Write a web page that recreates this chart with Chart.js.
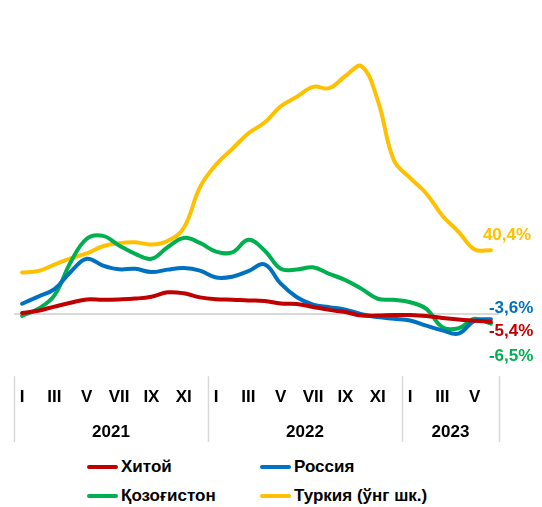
<!DOCTYPE html>
<html lang="uz">
<head>
    <meta charset="UTF-8">
    <meta name="viewport" content="width=device-width, initial-scale=1.0">
    <title>Ишлаб чиқарувчилар нархлари</title>
    <script src="https://cdn.jsdelivr.net/npm/chart.js"></script>
    <style>
        body {
            margin: 0;
            background: #fff;
            font-family: Arial, "Liberation Sans", sans-serif;
        }
        .chart-container {
            position: relative;
            width: 542px;
            height: 450px;
        }
        .legend {
            position: relative;
            width: 542px;
            height: 57px;
        }
        .legend-item {
            position: absolute;
            display: flex;
            align-items: center;
            height: 20px;
            font-size: 17px;
            font-weight: bold;
            color: #000;
            white-space: nowrap;
        }
        .legend-item .swatch {
            display: inline-block;
            width: 31px;
            height: 4px;
            border-radius: 2px;
            margin-right: 3px;
        }
    </style>
</head>
<body>
    <div class="chart-container">
        <canvas id="ppiChart"></canvas>
    </div>
    <div class="legend" id="legend"></div>
    <script>
        // month ticks: only odd months are labelled
        const monthTicks = ['I', '', 'III', '', 'V', '', 'VII', '', 'IX', '', 'XI', '',
                            'I', '', 'III', '', 'V', '', 'VII', '', 'IX', '', 'XI', '',
                            'I', '', 'III', '', 'V', ''];
        const years = ['2021', '2022', '2023'];
        const monthsPerYear = [12, 12, 6];

        // yoy, %
        const china = [0.3, 1.8, 4.4, 6.9, 9.0, 8.8, 9.0, 9.5, 10.7, 13.5, 12.9, 10.3,
                       9.1, 8.8, 8.3, 8.0, 6.4, 6.1, 4.2, 2.3, 0.9, -1.3, -1.3, -0.9,
                       -1.0, -1.6, -2.8, -3.8, -4.6, -5.4];
        const russia = [6.2, 10.8, 15.5, 26.5, 34.9, 30.6, 28.2, 28.5, 26.4, 28.0, 29.0, 27.4,
                        23.0, 23.5, 27.0, 31.3, 19.0, 10.4, 5.7, 4.0, 2.5, -0.5, -2.3, -3.4,
                        -4.5, -7.7, -10.8, -12.8, -4.5, -3.6];
        const kazakhstan = [-1.5, 3.0, 11.5, 32.7, 47.7, 49.5, 43.4, 38.1, 34.9, 42.3, 48.2, 45.0,
                            39.5, 39.0, 47.0, 40.2, 28.5, 28.1, 29.5, 25.3, 21.3, 15.7, 9.4, 8.7,
                            7.2, 3.0, -8.7, -9.4, -3.4, -6.5];
        // right axis
        const turkey = [26.2, 27.1, 31.2, 35.2, 38.3, 42.9, 44.9, 45.5, 44.0, 46.3, 54.6, 80.5,
                        95.0, 105.0, 115.0, 121.8, 132.2, 138.3, 144.6, 143.8, 151.5, 157.7, 136.0, 97.7,
                        86.5, 76.6, 62.4, 52.1, 40.8, 40.4];

        Chart.defaults.font.family = 'Arial, "Liberation Sans", sans-serif';
        Chart.defaults.color = '#000';

        // year boundaries on the category scale (in index units)
        const yearEdges = [-0.5];
        const yearCenters = [];
        monthsPerYear.forEach(n => {
            const start = yearEdges[yearEdges.length - 1];
            yearCenters.push(start + n / 2);
            yearEdges.push(start + n);
        });

        // vertical separators between the years, under the axis
        const yearSeparators = {
            id: 'yearSeparators',
            afterDraw(chart) {
                const x2 = chart.scales.x2;
                const ctx = chart.ctx;
                ctx.save();
                ctx.strokeStyle = '#d9d9d9';
                ctx.lineWidth = 1.5;
                yearEdges.forEach(v => {
                    const px = Math.round(x2.getPixelForValue(v)) + 0.5;
                    ctx.beginPath();
                    ctx.moveTo(px, chart.chartArea.bottom);
                    ctx.lineTo(px, x2.bottom - 4);
                    ctx.stroke();
                });
                ctx.restore();
            }
        };

        // last value printed next to the end of each line
        const endLabels = {
            id: 'endLabels',
            afterDatasetsDraw(chart) {
                const ctx = chart.ctx;
                ctx.save();
                ctx.font = 'bold 17px Arial, "Liberation Sans", sans-serif';
                ctx.textAlign = 'left';
                ctx.textBaseline = 'middle';
                chart.data.datasets.forEach((ds, i) => {
                    const meta = chart.getDatasetMeta(i);
                    const last = meta.data[meta.data.length - 1];
                    const value = ds.data[ds.data.length - 1];
                    const [dx, dy] = ds.endLabelOffset;
                    ctx.fillStyle = ds.borderColor;
                    ctx.fillText(value.toFixed(1).replace('.', ',') + '%', last.x + dx, last.y + dy);
                });
                ctx.restore();
            }
        };

        const ctx = document.getElementById('ppiChart').getContext('2d');
        const ppiChart = new Chart(ctx, {
            type: 'line',
            data: {
                labels: monthTicks,
                datasets: [
                    { label: 'Хитой', data: china, borderColor: '#C00000', backgroundColor: '#C00000', endLabelOffset: [-2, 9.5] },
                    { label: 'Россия', data: russia, borderColor: '#0070C0', backgroundColor: '#0070C0', endLabelOffset: [-2, -11] },
                    { label: 'Қозоғистон', data: kazakhstan, borderColor: '#00B050', backgroundColor: '#00B050', endLabelOffset: [-2, 33] },
                    { label: 'Туркия (ўнг шк.)', data: turkey, borderColor: '#FFC000', backgroundColor: '#FFC000', yAxisID: 'y1', endLabelOffset: [-8, -15] }
                ]
            },
            options: {
                responsive: true,
                maintainAspectRatio: false,
                animation: false,
                layout: { padding: { left: 14, right: 43, top: 0, bottom: 4 } },
                elements: {
                    line: { borderWidth: 4, tension: 0.4, borderCapStyle: 'round' },
                    point: { radius: 0, hoverRadius: 0 }
                },
                plugins: {
                    legend: { display: false },
                    tooltip: { enabled: false }
                },
                scales: {
                    x: {
                        type: 'category',
                        offset: true,
                        weight: 0,
                        grid: { display: false, drawTicks: false },
                        border: { display: false },
                        ticks: {
                            autoSkip: false,
                            maxRotation: 0,
                            padding: 11,
                            font: { size: 17, weight: 'bold' }
                        }
                    },
                    x2: {
                        type: 'linear',
                        position: 'bottom',
                        weight: 1,
                        min: -0.5,
                        max: 29.5,
                        grid: { display: false, drawTicks: false },
                        border: { display: false },
                        afterBuildTicks: axis => {
                            axis.ticks = yearCenters.map(v => ({ value: v }));
                        },
                        ticks: {
                            padding: 3.5,
                            font: { size: 17, weight: 'bold' },
                            callback: value => years[yearCenters.indexOf(value)]
                        }
                    },
                    y: {
                        min: -40,
                        max: 200,
                        afterBuildTicks: axis => {
                            axis.ticks = [{ value: 0 }];
                        },
                        grid: { color: '#d9d9d9', lineWidth: 2, drawTicks: false },
                        border: { display: false },
                        ticks: { display: false }
                    },
                    y1: {
                        display: false,
                        position: 'right',
                        min: -40,
                        max: 200
                    }
                }
            },
            plugins: [yearSeparators, endLabels]
        });

        // two-column legend below the chart
        const legendEl = document.getElementById('legend');
        const legendSlots = [[87, 7], [260, 7], [87, 36], [260, 36]];
        ppiChart.data.datasets.forEach((ds, i) => {
            const item = document.createElement('div');
            item.className = 'legend-item';
            item.style.left = legendSlots[i][0] + 'px';
            item.style.top = legendSlots[i][1] + 'px';
            const swatch = document.createElement('span');
            swatch.className = 'swatch';
            swatch.style.background = ds.borderColor;
            item.appendChild(swatch);
            item.appendChild(document.createTextNode(ds.label));
            legendEl.appendChild(item);
        });
    </script>
</body>
</html>
